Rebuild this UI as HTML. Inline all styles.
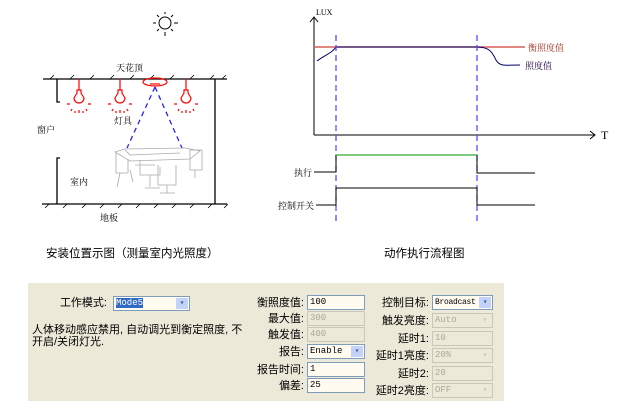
<!DOCTYPE html>
<html><head><meta charset="utf-8"><style>
body{margin:0;width:629px;height:412px;background:#fff;position:relative;overflow:hidden;font-family:"Liberation Sans","Noto Sans CJK SC",sans-serif}
.p{position:absolute;left:28px;top:283px;width:476px;height:118px;background:#ECE9D8}
.t{position:absolute;font-size:11px;color:#000;white-space:nowrap;line-height:12px}
.r{text-align:right}
.i{position:absolute;height:13px;border:1px solid #7F9DB9;background:#FFFBF0;font-family:"Liberation Mono",monospace;font-size:9px;line-height:13px;padding-left:2px;box-sizing:content-box;overflow:hidden;white-space:nowrap}
.d{background:#ECE9D8;border-color:#C9C7BA;color:#ACA899}
.a{position:absolute;right:1px;top:1px;width:12px;height:11px;background:#C1D3FB;color:#4D6185;font-size:8px;text-align:center;line-height:11px}
.d .a{background:#ECE9D8;color:#C9C7BA}
</style></head><body>
<svg width="629" height="270" style="position:absolute;left:0;top:0" font-family="Liberation Serif,Noto Serif CJK SC,serif">
<g stroke="#000" stroke-width="1" fill="none">
<circle cx="165" cy="23" r="6"/>
<line x1="165" y1="12" x2="165" y2="14"/><line x1="165" y1="32" x2="165" y2="36"/>
<line x1="153" y1="23" x2="156" y2="23"/><line x1="174" y1="23" x2="178" y2="23"/>
<line x1="157" y1="15" x2="159" y2="17"/><line x1="173" y1="15" x2="171" y2="17"/>
<line x1="157" y1="31" x2="159" y2="29"/><line x1="173" y1="31" x2="171" y2="29"/>
</g>
<g stroke="#000" stroke-width="1.3" fill="none">
<line x1="43" y1="79" x2="227" y2="79"/>
<line x1="42" y1="204" x2="227" y2="204"/>
<polyline points="60,102 57,102 57,79"/>
<polyline points="60,158 57,158 57,204"/>
<line x1="215" y1="79" x2="215" y2="204"/>
</g>
<g stroke="#000" stroke-width="0.8">
<path d="M50,79l4,-4M70,79l4,-4M90,79l4,-4M110,79l4,-4M130,79l4,-4M150,79l4,-4M170,79l4,-4M190,79l4,-4M210,79l4,-4M222,79l4,-4"/>
<path d="M45,208l4,-4M63,208l4,-4M82,208l4,-4M100,208l4,-4M118,208l4,-4M136,208l4,-4M154,208l4,-4M172,208l4,-4M190,208l4,-4M208,208l4,-4M224,208l4,-4"/>
</g>
<g font-size="9" fill="#000">
<text x="116" y="71">天花顶</text><text x="37" y="133">窗户</text><text x="114" y="124">灯具</text><text x="70" y="185">室内</text><text x="100" y="221">地板</text>
</g>
<g stroke="#f00" fill="none" stroke-width="1.2">
<g id="l"><line x1="79" y1="79" x2="79" y2="90"/><path d="M77,90h4v3l3,5a5,5 0 1 1 -10,0l3,-5z"/>
<path d="M67,104h3M88,104h3M72,109l-1,2M86,109l1,2M79,110v3M75,111v2M83,111v2"/></g>
<use href="#l" x="41"/><use href="#l" x="107"/>
<ellipse cx="155" cy="82" rx="12" ry="4"/><path d="M150,84h10"/>
</g>
<g stroke="#22f" stroke-width="1.3" stroke-dasharray="5,4">
<line x1="155" y1="87" x2="127" y2="148"/><line x1="155" y1="87" x2="182" y2="148"/>
</g>
<g stroke="#aaa" fill="none" stroke-width="0.8">
<path d="M115,152l10,-3 60,-1 15,3 -10,8 -60,2z"/>
<path d="M116,153v20h12v-14M120,173l-3,14M130,170l3,12"/>
<path d="M140,160v15h20v-8M150,175v12M145,188h15"/>
<path d="M158,165v20h18v-20M167,185v8M160,193h15"/>
<path d="M190,150h12v20h-12zM195,170v8"/>
<path d="M125,150l5,5 50,-2M135,165h20"/>
</g>
<g stroke="#000" stroke-width="1" fill="none">
<line x1="314" y1="17" x2="314" y2="135"/><path d="M310,22l4,-5 4,5"/>
<line x1="314" y1="135" x2="595" y2="135"/><path d="M590,131l5,4 -5,4"/>
</g>
<text x="316" y="15" font-size="8">LUX</text>
<text x="601" y="139" font-size="12">T</text>
<line x1="314" y1="47" x2="525" y2="47" stroke="#D9605A" stroke-width="1.5"/>
<path d="M317,61 C325,55 332,53 336,47 L476,47 C490,47 492,52 496,60 C500,67 505,65 520,65" stroke="#006" fill="none" stroke-width="1"/>
<text x="528" y="51" font-size="9" fill="#A03020">衡照度值</text>
<text x="525" y="69" font-size="9" fill="#204">照度值</text>
<g stroke="#44f" stroke-width="1.2" stroke-dasharray="6,4">
<line x1="336" y1="35" x2="336" y2="222"/><line x1="477" y1="35" x2="477" y2="222"/>
</g>
<polyline points="314,172 336,172 336,155 477,155 477,173 535,173" stroke="#000" fill="none"/>
<line x1="336" y1="155" x2="477" y2="155" stroke="#3A3" stroke-width="1.2"/>
<polyline points="316,205 336,205 336,188 477,188 477,205 535,205" stroke="#000" fill="none"/>
<text x="294" y="176" font-size="9">执行</text>
<text x="278" y="209" font-size="9">控制开关</text>
<g font-family="Liberation Sans,Noto Sans CJK SC,sans-serif" font-size="11.5" fill="#000">
<text x="46" y="257">安装位置示图（测量室内光照度）</text>
<text x="384" y="257">动作执行流程图</text>
</g>
</svg>
<div class="p"></div>
<div class="t r" style="left:40px;top:297px;width:67px">工作模式:</div>
<div class="i" style="left:113px;top:296px;width:73px"><span style="background:#316AC5;color:#fff">Mode5</span><div class="a">▾</div></div>
<div class="t" style="left:32px;top:324px">人体移动感应禁用, 自动调光到衡定照度, 不</div>
<div class="t" style="left:32px;top:336px">开启/关闭灯光.</div>

<div class="t r" style="left:220px;top:297px;width:84px">衡照度值:</div>
<div class="t r" style="left:220px;top:313px;width:84px">最大值:</div>
<div class="t r" style="left:220px;top:329px;width:84px">触发值:</div>
<div class="t r" style="left:220px;top:346px;width:84px">报告:</div>
<div class="t r" style="left:220px;top:364px;width:84px">报告时间:</div>
<div class="t r" style="left:220px;top:380px;width:84px">偏差:</div>
<div class="i" style="left:307px;top:295px;width:54px">100</div>
<div class="i d" style="left:307px;top:311px;width:54px">300</div>
<div class="i d" style="left:307px;top:327px;width:54px">400</div>
<div class="i" style="left:307px;top:344px;width:54px">Enable<div class="a">▾</div></div>
<div class="i" style="left:307px;top:362px;width:54px">1</div>
<div class="i" style="left:307px;top:378px;width:54px">25</div>

<div class="t r" style="left:350px;top:297px;width:79px">控制目标:</div>
<div class="t r" style="left:350px;top:315px;width:79px">触发亮度:</div>
<div class="t r" style="left:350px;top:333px;width:79px">延时1:</div>
<div class="t r" style="left:350px;top:350px;width:79px">延时1亮度:</div>
<div class="t r" style="left:350px;top:368px;width:79px">延时2:</div>
<div class="t r" style="left:350px;top:385px;width:79px">延时2亮度:</div>
<div class="i" style="left:432px;top:295px;width:57px;font-size:8px;letter-spacing:-0.3px">Broadcast<div class="a">▾</div></div>
<div class="i d" style="left:432px;top:313px;width:57px">Auto<div class="a">▾</div></div>
<div class="i d" style="left:432px;top:331px;width:57px">10</div>
<div class="i d" style="left:432px;top:348px;width:57px">20%<div class="a">▾</div></div>
<div class="i d" style="left:432px;top:366px;width:57px">20</div>
<div class="i d" style="left:432px;top:383px;width:57px">OFF<div class="a">▾</div></div>
</body></html>
